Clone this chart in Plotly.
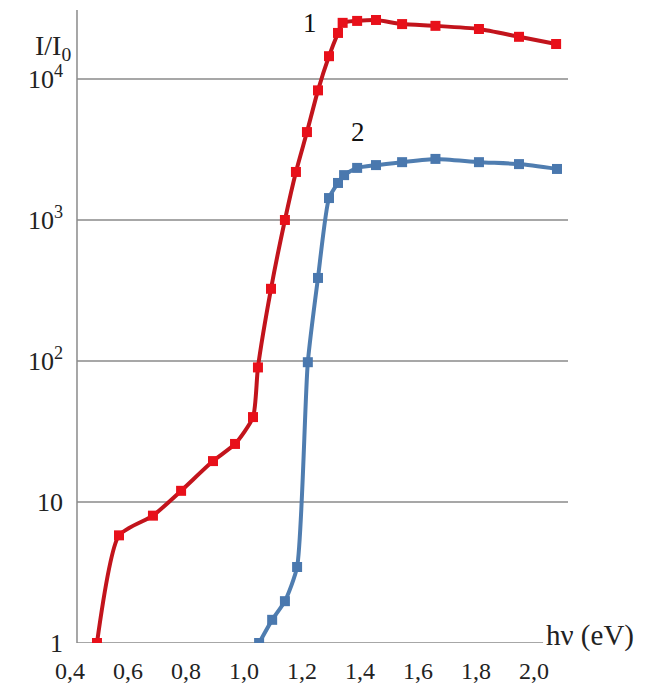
import plotly.graph_objects as go

# ---- data ----
x1 = [0.493, 0.569, 0.686, 0.783, 0.893, 0.969, 1.031, 1.048, 1.093, 1.141, 1.179,
      1.217, 1.255, 1.293, 1.324, 1.340, 1.390, 1.455, 1.545, 1.660, 1.810, 1.948, 2.076]
y1 = [1.0, 5.8, 8.0, 12.0, 19.5, 25.8, 40.0, 90.0, 325, 1000, 2190,
      4200, 8300, 14500, 21200, 25000, 25800, 26200, 24500, 23800, 22600, 19900, 17700]

x2 = [1.052, 1.097, 1.141, 1.183, 1.220, 1.255, 1.293, 1.324, 1.345, 1.390,
      1.455, 1.545, 1.660, 1.810, 1.948, 2.079]
y2 = [1.0, 1.46, 1.98, 3.46, 98, 388, 1430, 1830, 2080, 2340,
      2450, 2570, 2710, 2570, 2490, 2300]

x_ticks = [0.4, 0.6, 0.8, 1.0, 1.2, 1.4, 1.6, 1.8, 2.0]
x_ticktext = ["0,4", "0,6", "0,8", "1,0", "1,2", "1,4", "1,6", "1,8", "2,0"]
y_ticks = [1, 10, 100, 1000, 10000]
y_ticktext = ["1", "10", "10<sup>2</sup>", "10<sup>3</sup>", "10<sup>4</sup>"]

FONT = "Liberation Serif"
X_MIN, X_MAX = 0.4, 2.117
AXIS_X = 0.4241          # where the vertical axis sits
XAXIS_END = 2.031        # where the horizontal axis line ends
Y_TOP_LOG = 4.489

fig = go.Figure()
fig.add_trace(go.Scatter(
    x=x1, y=y1, mode="lines+markers", name="1",
    line=dict(color="#C2141C", width=4, shape="spline", smoothing=0.6),
    marker=dict(symbol="square", size=10, color="#E8101A"),
))
fig.add_trace(go.Scatter(
    x=x2, y=y2, mode="lines+markers", name="2",
    line=dict(color="#4F7DB0", width=4, shape="spline", smoothing=0.6),
    marker=dict(symbol="square", size=10, color="#4A78AE"),
))

grid_col = "#8a8a8a"
shapes = []
for v in y_ticks[1:]:
    shapes.append(dict(type="line", xref="x", yref="y", x0=AXIS_X, x1=X_MAX, y0=v, y1=v,
                       line=dict(color=grid_col, width=1.5), layer="below"))
# bottom axis line
shapes.append(dict(type="line", xref="x", yref="y", x0=AXIS_X, x1=XAXIS_END, y0=1, y1=1,
                   line=dict(color=grid_col, width=1.5), layer="below"))
# vertical axis line
shapes.append(dict(type="line", xref="x", yref="paper", x0=AXIS_X, x1=AXIS_X, y0=0, y1=1,
                   line=dict(color=grid_col, width=1.5), layer="below"))

annotations = [
    dict(text="1", xref="x", yref="y", x=1.226, y=4.397, showarrow=False,
         font=dict(family=FONT, size=27, color="#111")),
    dict(text="2", xref="x", yref="y", x=1.394, y=3.624, showarrow=False,
         font=dict(family=FONT, size=27, color="#111")),
    dict(text="hν (eV)", xref="x", yref="y", x=2.035, y=0.05, xanchor="left",
         showarrow=False, font=dict(family=FONT, size=29, color="#222")),
    dict(text="I/I<sub>0</sub>", xref="paper", yref="paper", x=-0.0743, y=0.972,
         showarrow=False, font=dict(family=FONT, size=28, color="#222")),
]

fig.update_layout(
    width=656, height=686,
    margin=dict(l=70, r=88, t=10, b=43, autoexpand=False),
    paper_bgcolor="white", plot_bgcolor="white",
    showlegend=False,
    font=dict(family=FONT, size=26, color="#222"),
    shapes=shapes, annotations=annotations,
    xaxis=dict(range=[X_MIN, X_MAX], showgrid=False, zeroline=False, showline=False,
               automargin=False, tickfont=dict(size=24),
               tickmode="array", tickvals=x_ticks, ticktext=x_ticktext, ticks="",
               ticklabelstandoff=11),
    yaxis=dict(type="log", range=[0, Y_TOP_LOG], showgrid=False, zeroline=False,
               showline=False, automargin=False,
               tickmode="array", tickvals=y_ticks, ticktext=y_ticktext,
               ticks="", ticklabelstandoff=6),
)

fig.write_html("out.html", config={"displayModeBar": False},
               post_script="document.body.style.margin='0';document.body.style.overflow='hidden';")
